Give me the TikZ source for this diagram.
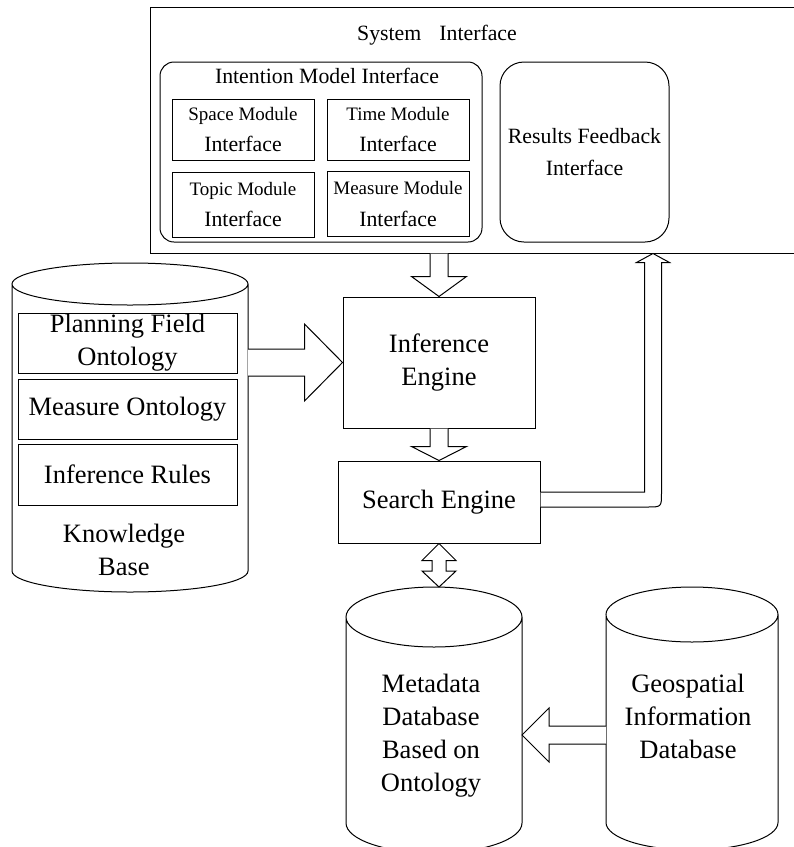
\documentclass[tikz,border=0pt]{standalone}
\usepackage{fontspec}
\setmainfont{Liberation Serif}
\usetikzlibrary{calc}

\newcommand{\txtbig}{\fontsize{26.5}{33}\selectfont}
\newcommand{\txtmid}{\fontsize{21.8}{31.5}\selectfont}
\newcommand{\txtsmall}{\fontsize{19}{31.5}\selectfont}

% outline of a database drum round a named node, #2 = radius of the caps
\newcommand{\dbcyl}[2]{%
  \draw let \p1=($(#1.east)-(#1.west)$) in
    ($(#1.north)+(0,#2)$) ellipse [x radius=0.5*\x1, y radius=#2pt]
    ($(#1.north west)+(0,#2)$) -- ($(#1.south west)+(0,-#2)$)
    arc[start angle=180, end angle=360, x radius=0.5*\x1, y radius=#2pt]
    -- ($(#1.north east)+(0,#2)$);
}

\tikzset{
  box/.style={draw, rectangle, inner sep=0pt, align=center, font=\txtbig},
  modbox/.style={box, minimum width=142pt, font=\txtmid},
  roundbox/.style={box, font=\txtmid},
  dbase/.style={rectangle, inner sep=0pt, outer sep=0pt},
  fat/.style={draw, fill=white, line join=miter},
}

\begin{document}
\begin{tikzpicture}[x=1pt, y=-1pt, line width=1pt]
    \useasboundingbox (0,0) rectangle (794,847);

    % system interface
    \node[box, minimum width=650pt, minimum height=246pt] (sys) at (475,130) {};
    \node[font=\txtmid, inner sep=0pt] (systitle) at (437,35) {System\hspace{18pt}Interface};

    \node[roundbox, rounded corners=14pt, minimum width=322pt, minimum height=180pt] (imi) at (321,152) {};
    \node[font=\txtmid, inner sep=0pt] (imititle) at (327,76) {Intention Model Interface};
    \node[modbox, minimum height=61pt] (space) at (243,129.5) {{\txtsmall Space Module}\\Interface};
    \node[modbox, minimum height=61pt] (time) at (398,129.5) {{\txtsmall Time Module}\\Interface};
    \node[modbox, minimum height=65pt] (topic) at (243,204.5) {{\txtsmall Topic Module}\\Interface};
    \node[modbox, minimum height=65pt] (measure) at (398,204) {{\txtsmall Measure Module}\\Interface};

    \node[roundbox, rounded corners=24pt, minimum width=169pt, minimum height=180pt] (rfi) at (584.5,152) {Results Feedback\\Interface};

    % knowledge base
    \node[dbase, minimum width=236pt, minimum height=329pt] (kb) at (130,427.5) {};
    \dbcyl{kb}{21}
    \node[box, minimum width=219pt, minimum height=60pt] (pfo) at (127.5,343) {Planning Field\\Ontology};
    \node[box, minimum width=219pt, minimum height=60pt] (mo) at (127.5,409) {Measure Ontology};
    \node[box, minimum width=219pt, minimum height=61pt] (ir) at (127.5,474.5) {Inference Rules};
    \node[font=\txtbig, align=center, inner sep=0pt] (kbtext) at (124,550) {Knowledge\\Base};

    % engines
    \node[box, minimum width=192pt, minimum height=131pt] (ie) at (439,362.5) {Inference\\Engine};
    \node[box, minimum width=202pt, minimum height=82pt] (se) at (439,502) {Search Engine};

    % databases
    \node[dbase, minimum width=176pt, minimum height=266pt] (md) at (434,720) {};
    \dbcyl{md}{30}
    \node[font=\txtbig, align=center, inner sep=0pt] (mdtext) at (431,735.5) {Metadata\\Database\\Based on\\Ontology};
    \node[dbase, minimum width=172pt, minimum height=263pt] (geo) at (692,718.5) {};
    \dbcyl{geo}{27.5}
    \node[font=\txtbig, align=center, inner sep=0pt] (geotext) at (688,716.5) {Geospatial\\Information\\Database};

    % fat arrows
    \draw[fat] ($(sys.south -| ie.north)+(-9,0)$) -- ($(ie.north)+(-9,-20)$) -- ($(ie.north)+(-27.5,-20)$) -- (ie.north)
        -- ($(ie.north)+(27.5,-20)$) -- ($(ie.north)+(9,-20)$) -- ($(sys.south -| ie.north)+(9,0)$);
    \draw[fat] ($(ie.south)+(-9,0)$) -- ($(se.north)+(-9,-14)$) -- ($(se.north)+(-27.5,-14)$) -- (se.north)
        -- ($(se.north)+(27.5,-14)$) -- ($(se.north)+(9,-14)$) -- ($(ie.south)+(9,0)$);
    \draw[fat] ($(kb.east |- ie.west)+(0,-13.5)$) -- ($(ie.west)+(-38,-13.5)$) -- ($(ie.west)+(-38,-38.5)$) -- (ie.west)
        -- ($(ie.west)+(-38,38.5)$) -- ($(ie.west)+(-38,13.5)$) -- ($(kb.east |- ie.west)+(0,13.5)$);

    \coordinate (fbtip) at ($(sys.south -| rfi.east)+(-16.5,0)$);
    \coordinate (fbtail) at ($(se.east)+(0,-2.5)$);
    \draw[fat] ($(fbtail)+(0,-7.5)$) -- ($(fbtail -| fbtip)+(-8.5,-7.5)$) -- ($(fbtip)+(-8.5,9)$) -- ($(fbtip)+(-16.5,9)$)
        -- (fbtip) -- ($(fbtip)+(16.5,9)$) -- ($(fbtip)+(8.5,9)$) -- ($(fbtail -| fbtip)+(8.5,-6.5)$)
        .. controls ($(fbtail -| fbtip)+(8.5,7.5)$) .. ($(fbtail -| fbtip)+(-5.5,7.5)$) -- ($(fbtail)+(0,7.5)$);

    \coordinate (mdtop) at (md.north -| se.south);
    \draw[fat] (se.south) -- ($(se.south)+(17,17)$) -- ($(se.south)+(7,17)$) -- ($(mdtop)+(7,-16)$) -- ($(mdtop)+(17,-16)$)
        -- (mdtop) -- ($(mdtop)+(-17,-16)$) -- ($(mdtop)+(-7,-16)$) -- ($(se.south)+(-7,17)$) -- ($(se.south)+(-17,17)$) -- cycle;

    \coordinate (gtail) at ($(geo.west)+(0,16.5)$);
    \coordinate (gtip) at (gtail -| md.east);
    \draw[fat] ($(gtail)+(0,-9)$) -- ($(gtip)+(27,-9)$) -- ($(gtip)+(27,-27)$) -- (gtip)
        -- ($(gtip)+(27,27)$) -- ($(gtip)+(27,9)$) -- ($(gtail)+(0,9)$);
\end{tikzpicture}
\end{document}
